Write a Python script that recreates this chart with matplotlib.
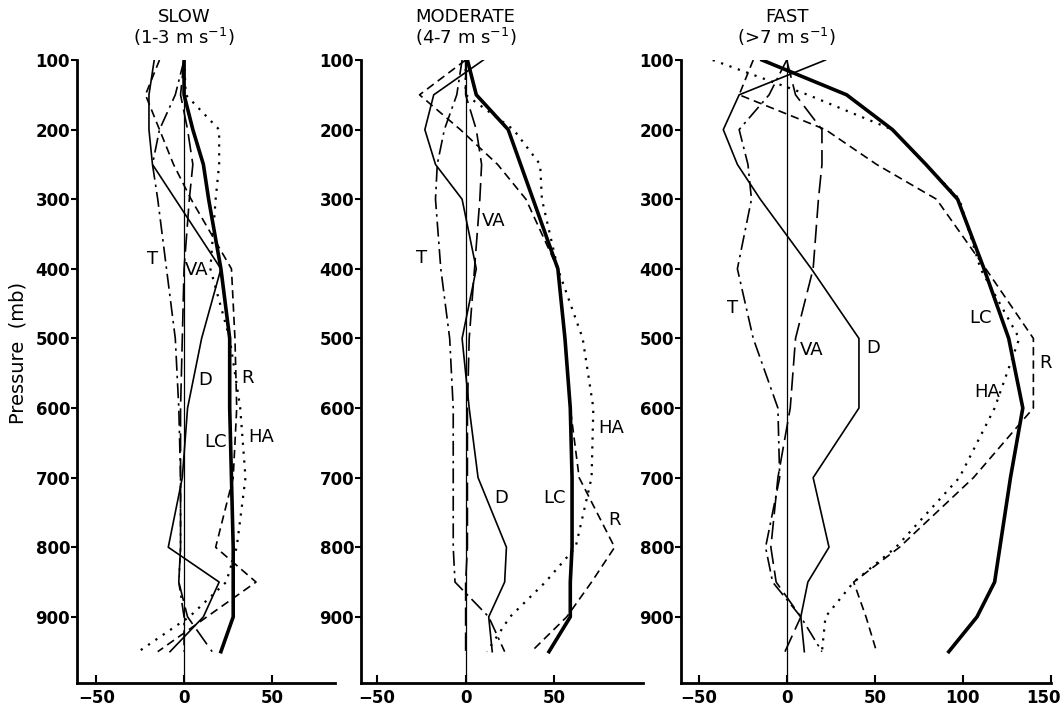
import matplotlib.pyplot as plt
from matplotlib.transforms import ScaledTranslation

# Niveis de pressao (mb)
niveis = [100, 150, 200, 250, 300, 400, 500, 600, 700, 800, 850, 900, 950]

# SLOW (1-3 m/s)
slow_lc = [0, 0, 5, 11, 14, 21, 26, 26, 27, 28, 28, 28, 21]
slow_ha = [0, 1, 20, 20, 18, 15, 26, 32, 35, 30, 24, 3, -26]
slow_r = [-14, -22, -14, -6, 4, 27, 29, 30, 28, 18, 41, 13, -15]
slow_va = [0, -2, 2, 5, 3, 0, -1, -2, -2, -2, -3, 2, 16]
slow_d = [-17, -20, -20, -18, -5, 21, 10, 2, -1, -9, 20, 11, -8]
slow_t = [0, -5, -14, -18, -15, -10, -5, -3, -2, -2, -3, 0, 0]

# MODERATE (4-7 m/s)
mod_lc = [1, 6, 24, 31, 38, 52, 56, 59, 60, 60, 59, 59, 47]
mod_ha = [0, 0, 27, 42, 43, 52, 66, 72, 71, 62, 45, 25, 12]
mod_r = [0, -26, -3, 18, 34, 52, 56, 59, 64, 84, 71, 57, 37]
mod_va = [0, 0, 6, 9, 8, 5, 2, 1, 1, 1, 0, 0, 0]
mod_d = [10, -18, -23, -17, -2, 6, -2, 2, 7, 23, 22, 13, 15]
mod_t = [-2, -5, -12, -16, -17, -14, -9, -7, -7, -7, -6, 13, 22]

# FAST (>7 m/s)
fast_lc = [-14, 34, 60, 79, 97, 112, 126, 134, 127, 121, 118, 108, 92]
fast_ha = [-42, 12, 60, 79, 98, 110, 132, 118, 98, 62, 38, 22, 20]
fast_r = [-19, -27, 22, 51, 85, 113, 140, 140, 106, 64, 38, 45, 51]
fast_va = [0, 5, 20, 20, 18, 15, 5, 2, -5, -9, -6, 8, -1]
fast_d = [22, -27, -36, -28, -15, 14, 41, 41, 15, 24, 12, 8, 10]
fast_t = [0, -10, -27, -22, -20, -28, -19, -5, -4, -12, -8, 8, 20]

titulos = ["SLOW\n(1-3 m s$^{-1}$)", "MODERATE\n(4-7 m s$^{-1}$)", "FAST\n(>7 m s$^{-1}$)"]

paineis = [
    {"LC": slow_lc, "HA": slow_ha, "R": slow_r, "VA": slow_va, "D": slow_d, "T": slow_t},
    {"LC": mod_lc, "HA": mod_ha, "R": mod_r, "VA": mod_va, "D": mod_d, "T": mod_t},
    {"LC": fast_lc, "HA": fast_ha, "R": fast_r, "VA": fast_va, "D": fast_d, "T": fast_t},
]

estilos = {
    "LC": dict(lw=2.6, ls="-"),
    "HA": dict(lw=1.6, ls=(0, (1, 3))),
    "R": dict(lw=1.2, ls=(0, (5, 3))),
    "VA": dict(lw=1.2, ls=(0, (11, 4))),
    "D": dict(lw=1.2, ls="-"),
    "T": dict(lw=1.2, ls=(0, (9, 3, 1.5, 3))),
}

# posicao das letras de cada curva
rotulos = [
    {"T": (-18, 386), "VA": (7, 401), "R": (36, 557), "D": (12, 560), "LC": (18, 649), "HA": (44, 642)},
    {"T": (-25, 384), "VA": (16, 332), "D": (20, 729), "LC": (50, 729), "HA": (82, 629), "R": (84, 761)},
    {"T": (-31, 456), "VA": (14, 517), "D": (49, 514), "LC": (110, 471), "R": (147, 535), "HA": (114, 577)},
]

posicoes = [
    [77 / 1064, 0.0326, 258 / 1064, 0.8824],
    [361 / 1064, 0.0326, 282 / 1064, 0.8824],
    [681 / 1064, 0.0326, 370 / 1064, 0.8824],
]
limites_x = [(-61, 86), (-59, 100), (-60, 150)]
ticks_x = [[-50, 0, 50], [-50, 0, 50], [-50, 0, 50, 100, 150]]

fig = plt.figure(figsize=(10.64, 7.06), dpi=100)

for i in range(3):
    ax = fig.add_axes(posicoes[i])
    ax.plot([0, 0], [100, 995], color="black", lw=0.9)
    for nome, valores in paineis[i].items():
        ax.plot(valores, niveis, color="black", **estilos[nome])
    for nome, (x, y) in rotulos[i].items():
        ax.text(x, y, nome, fontsize=13, ha="center", va="center")

    ax.set_xlim(limites_x[i])
    ax.set_ylim(995, 100)
    ax.set_xticks(ticks_x[i])
    ax.set_yticks([100, 200, 300, 400, 500, 600, 700, 800, 900])
    ax.spines["top"].set_visible(False)
    ax.spines["right"].set_visible(False)
    ax.spines["left"].set_linewidth(2)
    ax.spines["bottom"].set_linewidth(2)
    ax.tick_params(axis="y", direction="out", length=4, width=1.5, labelsize=12, pad=1)
    ax.tick_params(axis="x", direction="in", length=6, width=1.5, labelsize=12, pad=4)
    for lab in ax.get_xticklabels() + ax.get_yticklabels():
        lab.set_fontweight("bold")

    ax.text(0, 1.02, titulos[i], transform=ax.get_xaxis_transform(),
            ha="center", va="bottom", fontsize=13, linespacing=0.95)

# o "150" fica colado na borda direita
ultimo = ax.get_xticklabels()[-1]
ultimo.set_transform(ultimo.get_transform() + ScaledTranslation(-0.08, 0, fig.dpi_scale_trans))

fig.text(0.017, 0.5, "Pressure  (mb)", rotation=90, ha="center", va="center", fontsize=14)

plt.savefig("out.png", dpi=100)
